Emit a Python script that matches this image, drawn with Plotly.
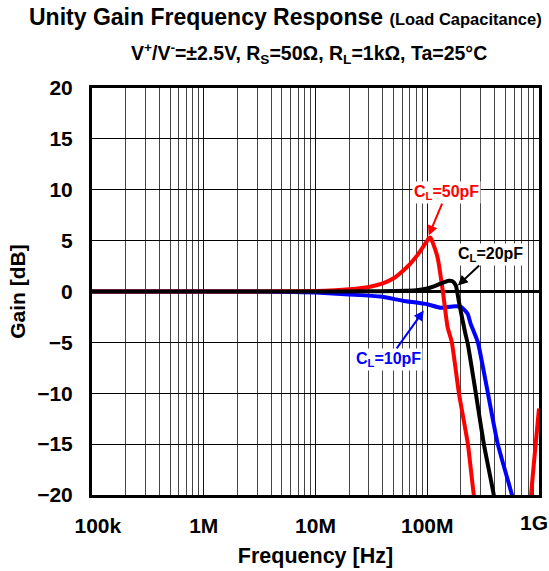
import plotly.graph_objects as go

# ---------------- data ----------------
freq_50 = [1e5, 1e6, 5e6, 1.0e7, 1.5e7, 2e7, 3e7, 4e7, 5e7, 6e7, 7e7, 8.2e7, 9.2e7, 1.0e8,
           1.04e8, 1.07e8, 1.12e8, 1.24e8, 1.38e8, 1.52e8, 1.66e8, 1.92e8, 2.31e8, 2.61e8,
           2.9e8, 8.0e8, 8.5e8, 1.0e9]
gain_50 = [0, 0, 0.02, 0.05, 0.12, 0.22, 0.45, 0.8, 1.3, 2.0, 2.7, 3.6, 4.4, 5.0,
           5.25, 5.3, 4.8, 3.3, 0.0, -3.5, -5, -10, -15, -20,
           -23, -25, -20, -11.5]

freq_20 = [1e5, 1e7, 3e7, 5e7, 8e7, 1e8, 1.15e8, 1.3e8, 1.45e8, 1.56e8, 1.68e8, 1.8e8,
           1.92e8, 2.05e8, 2.2e8, 2.31e8, 2.72e8, 3.21e8, 3.94e8, 4.3e8]
gain_20 = [0, 0, 0.02, 0.05, 0.12, 0.3, 0.5, 0.75, 0.95, 1.05, 1.0, 0.6,
           -1.0, -2.6, -4.2, -5.2, -10, -15, -20, -23]

freq_10 = [1e5, 3e6, 6e6, 1e7, 2e7, 3.8e7, 6e7, 1e8, 1.32e8, 1.6e8, 1.8e8, 2.0e8,
           2.15e8, 2.3e8, 2.45e8, 2.6e8, 2.84e8, 3.49e8, 4.28e8, 5.73e8, 6.3e8]
gain_10 = [0, 0, -0.05, -0.1, -0.3, -0.5, -0.9, -1.25, -1.6, -1.5, -1.45, -1.5,
           -1.8, -2.2, -3.2, -3.9, -5, -10, -15, -20, -22]

x_tickvals = [1e5, 1e6, 1e7, 1e8]
x_ticktext = ["\u00a0\u00a0100k", "1M", "10M", "100M"]
x_last_tick = 1e9
x_last_text = "1G"
minor_vals = [m * 10 ** d for d in range(5, 9) for m in range(2, 10)]

FONT = "Liberation Sans, Arial, sans-serif"
LW = 4

fig = go.Figure()
fig.add_trace(go.Scatter(x=freq_10, y=gain_10, mode="lines",
                         line=dict(color="#0000ff", width=LW, shape="spline", smoothing=0.5)))
fig.add_trace(go.Scatter(x=freq_50, y=gain_50, mode="lines",
                         line=dict(color="#ff0000", width=LW, shape="spline", smoothing=0.5)))
fig.add_trace(go.Scatter(x=freq_20, y=gain_20, mode="lines",
                         line=dict(color="#000000", width=LW, shape="spline", smoothing=0.5)))

fig.update_layout(
    width=549, height=571,
    margin=dict(l=92, r=10, t=88, b=76),
    paper_bgcolor="white", plot_bgcolor="white",
    showlegend=False,
    font=dict(family=FONT, color="black"),
)

fig.update_xaxes(
    type="log", range=[5, 9], automargin=False,
    tickvals=x_tickvals + [x_last_tick], ticktext=x_ticktext + [""],
    tickfont=dict(size=21, family=FONT, weight="bold"),
    ticks="", ticklabelstandoff=10, ticklabeloverflow="allow",
    showgrid=True, gridcolor="#0000aa", gridwidth=1,
    minor=dict(tickvals=minor_vals, showgrid=True, gridcolor="#444444", gridwidth=1, ticks=""),
    showline=True, linecolor="black", linewidth=3, mirror=True,
    title=dict(text="Frequency [Hz]", font=dict(size=21.5, family=FONT, weight="bold"), standoff=12),
)
fig.update_yaxes(
    range=[-20, 20], dtick=5, tick0=0, automargin=False,
    tickfont=dict(size=21, family=FONT, weight="bold"),
    ticks="", ticklabelstandoff=12, ticklabeloverflow="allow",
    showgrid=True, gridcolor="black", gridwidth=1,
    zeroline=True, zerolinecolor="black", zerolinewidth=3,
    showline=True, linecolor="black", linewidth=3, mirror=True,
    title=dict(text="Gain [dB]", font=dict(size=21, family=FONT, weight="bold"), standoff=6),
)

# last x tick label, nudged inward so it stays inside the page
fig.add_annotation(
    xref="x", yref="paper", x=9, y=0, xshift=-5, yshift=-27, showarrow=False,
    text="<b>" + x_last_text + "</b>", font=dict(size=21, family=FONT),
    xanchor="center", yanchor="middle",
)

fig.add_annotation(
    xref="paper", yref="paper", x=0.5, y=1, yshift=71, xshift=-30, showarrow=False,
    text="<b>Unity Gain Frequency Response <span style='font-size:16.5px'>(Load Capacitance)</span></b>",
    font=dict(size=23, family=FONT), xanchor="center", yanchor="middle",
)
fig.add_annotation(
    xref="paper", yref="paper", x=0.5, y=1, yshift=35, xshift=-7, showarrow=False,
    text="<b>V<sup>+</sup>/V<sup>-</sup>=±2.5V, R<sub>S</sub>=50Ω, R<sub>L</sub>=1kΩ, Ta=25°C</b>",
    font=dict(size=19.5, family=FONT), xanchor="center", yanchor="middle",
)

ann_font = dict(size=16, family=FONT)
fig.add_annotation(x=8.013, y=5.5, text="<b>C<sub>L</sub>=50pF</b>", font=dict(color="#ff0000", **ann_font),
                   showarrow=True, arrowhead=2, arrowsize=1, arrowwidth=2, arrowcolor="#ff0000",
                   ax=18, ay=-43, bgcolor="white")
fig.add_annotation(x=8.274, y=0.6, text="<b>C<sub>L</sub>=20pF</b>", font=dict(color="black", **ann_font),
                   showarrow=True, arrowhead=2, arrowsize=1, arrowwidth=2, arrowcolor="black",
                   ax=33, ay=-31, bgcolor="white")
fig.add_annotation(x=7.969, y=-1.86, text="<b>C<sub>L</sub>=10pF</b>", font=dict(color="#0000ff", **ann_font),
                   showarrow=True, arrowhead=2, arrowsize=1, arrowwidth=2, arrowcolor="#0000ff",
                   ax=-35, ay=49, bgcolor="white")

fig.write_html("out.html")
